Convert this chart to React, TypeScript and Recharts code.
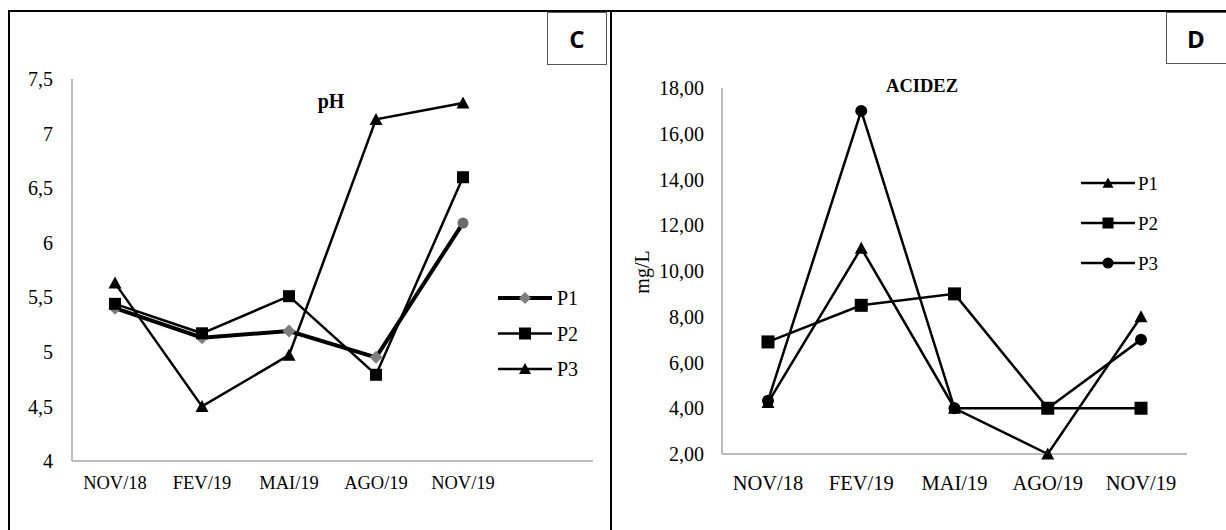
import React from 'react';
import { LineChart, Line, XAxis, YAxis } from 'recharts';

const months = ['NOV/18', 'FEV/19', 'MAI/19', 'AGO/19', 'NOV/19'];
const seriesNames = ['P1', 'P2', 'P3'];

// pH (panel C)
const phP1 = [5.4, 5.13, 5.19, 4.95, 6.18];
const phP2 = [5.44, 5.17, 5.51, 4.79, 6.6];
const phP3 = [5.63, 4.5, 4.97, 7.13, 7.28];
const phTicks = [4, 4.5, 5, 5.5, 6, 6.5, 7, 7.5];

// acidez (panel D), mg/L
const acP1 = [4.25, 11, 4, 2, 8];
const acP2 = [6.9, 8.5, 9, 4, 4];
const acP3 = [4.33, 17, 4, 4, 7];
const acTicks = [2, 4, 6, 8, 10, 12, 14, 16, 18];

const serif = '"Liberation Serif", "Times New Roman", serif';

const phData = months.map((m, i) => ({ month: m, P1: phP1[i], P2: phP2[i], P3: phP3[i] }));
const acData = months.map((m, i) => ({ month: m, P1: acP1[i], P2: acP2[i], P3: acP3[i] }));

type Shape = 'diamond' | 'square' | 'triangle' | 'circle';

const Marker = ({ shape, cx, cy, size = 12, fill = '#000' }: { shape: Shape; cx?: number; cy?: number; size?: number; fill?: string }) => {
  if (cx == null || cy == null) return <g />;
  const h = size / 2;
  if (shape === 'square') return <rect x={cx - h} y={cy - h} width={size} height={size} fill={fill} />;
  if (shape === 'diamond')
    return <polygon points={`${cx},${cy - h} ${cx + h},${cy} ${cx},${cy + h} ${cx - h},${cy}`} fill={fill} />;
  if (shape === 'triangle')
    return <polygon points={`${cx},${cy - h} ${cx + h},${cy + h * 0.85} ${cx - h},${cy + h * 0.85}`} fill={fill} />;
  return <circle cx={cx} cy={cy} r={h} fill={fill} />;
};

const dotFor = (shape: Shape, size = 12, fill = '#000') => (p: any) => (
  <Marker key={`d-${p.index}`} shape={shape} cx={p.cx} cy={p.cy} size={size} fill={fill} />
);

// P1 in pH: grey diamonds, last point drawn as a grey circle
const phP1Dot = (p: any) =>
  p.index === months.length - 1 ? (
    <Marker key={`d-${p.index}`} shape="circle" cx={p.cx} cy={p.cy} size={11} fill="#6b6b6b" />
  ) : (
    <Marker key={`d-${p.index}`} shape="diamond" cx={p.cx} cy={p.cy} size={13} fill="#7f7f7f" />
  );

const axisLine = { stroke: '#a6a6a6', strokeWidth: 1.5 };

const LegendBox = ({ left, top, rows, gap, fontSize, textX }: any) => (
  <svg style={{ position: 'absolute', left, top }} width={120} height={gap * 3 + 20}>
    {rows.map((r: any, i: number) => {
      const y = 18 + i * gap;
      return (
        <g key={r.name}>
          <line x1={8} x2={62} y1={y} y2={y} stroke="#000" strokeWidth={r.width} />
          <Marker shape={r.shape} cx={35} cy={y} size={r.size} fill={r.fill} />
          <text x={textX} y={y} dominantBaseline="central" style={{ fontFamily: serif, fontSize }} fill="#000">
            {r.name}
          </text>
        </g>
      );
    })}
  </svg>
);

const App = () => (
  <div style={{ position: 'absolute', left: 0, top: 0, width: 1226, height: 530, background: '#fff', overflow: 'hidden' }}>
    {/* table borders */}
    <div style={{ position: 'absolute', left: 8, top: 10, width: 1218, height: 2, background: '#000' }} />
    <div style={{ position: 'absolute', left: 8, top: 10, width: 2, height: 520, background: '#000' }} />
    <div style={{ position: 'absolute', left: 610, top: 10, width: 2, height: 520, background: '#000' }} />

    {/* panel C: pH */}
    <div style={{ position: 'absolute', left: 0, top: 0 }}>
      <LineChart width={611} height={530} data={phData} margin={{ top: 79, right: 18, bottom: 39, left: 0 }}>
        <XAxis
          dataKey="month"
          height={30}
          interval={0}
          padding={{ left: 43, right: 130 }}
          axisLine={axisLine}
          tickLine={false}
          tickSize={0}
          tickMargin={15}
          tick={{ fill: '#000', fontSize: 18.5, fontFamily: serif }}
        />
        <YAxis
          width={72}
          type="number"
          domain={[4, 7.5]}
          ticks={phTicks}
          interval={0}
          axisLine={axisLine}
          tickLine={false}
          tickSize={0}
          tickMargin={19}
          tick={{ fill: '#000', fontSize: 20, fontFamily: serif }}
          tickFormatter={(v: number) => String(v).replace('.', ',')}
        />
        <Line type="linear" dataKey="P1" stroke="#000" strokeWidth={4} dot={phP1Dot} isAnimationActive={false} />
        <Line type="linear" dataKey="P2" stroke="#000" strokeWidth={2.5} dot={dotFor('square', 12)} isAnimationActive={false} />
        <Line type="linear" dataKey="P3" stroke="#000" strokeWidth={2.5} dot={dotFor('triangle', 13)} isAnimationActive={false} />
      </LineChart>
    </div>
    <div style={{ position: 'absolute', left: 298, top: 88, width: 66, textAlign: 'center', fontFamily: serif, fontWeight: 'bold', fontSize: 20, lineHeight: '26px' }}>
      pH
    </div>
    <LegendBox
      left={490}
      top={280}
      gap={35.5}
      fontSize={20}
      textX={67}
      rows={[
        { name: seriesNames[0], shape: 'diamond', size: 12, fill: '#7f7f7f', width: 4 },
        { name: seriesNames[1], shape: 'square', size: 12, fill: '#000', width: 2.5 },
        { name: seriesNames[2], shape: 'triangle', size: 12, fill: '#000', width: 2.5 },
      ]}
    />
    <div style={{ position: 'absolute', left: 547, top: 12, width: 60, height: 53, boxSizing: 'border-box', border: '1.5px solid #555', display: 'flex', alignItems: 'center', justifyContent: 'center', fontFamily: '"Open Sans", sans-serif', fontWeight: 'bold', fontSize: 24 }}>
      C
    </div>

    {/* panel D: acidez */}
    <div style={{ position: 'absolute', left: 611, top: 0 }}>
      <LineChart width={615} height={530} data={acData} margin={{ top: 88, right: 39, bottom: 46, left: 0 }}>
        <XAxis
          dataKey="month"
          height={30}
          interval={0}
          padding={{ left: 46, right: 46 }}
          axisLine={axisLine}
          tickLine={false}
          tickSize={0}
          tickMargin={21}
          tick={{ fill: '#000', fontSize: 20.5, fontFamily: serif }}
        />
        <YAxis
          width={111}
          type="number"
          domain={[2, 18]}
          ticks={acTicks}
          interval={0}
          axisLine={axisLine}
          tickLine={false}
          tickSize={0}
          tickMargin={18}
          tick={{ fill: '#000', fontSize: 20, fontFamily: serif }}
          tickFormatter={(v: number) => v.toFixed(2).replace('.', ',')}
        />
        <Line type="linear" dataKey="P1" stroke="#000" strokeWidth={2.5} dot={dotFor('triangle', 13)} isAnimationActive={false} />
        <Line type="linear" dataKey="P2" stroke="#000" strokeWidth={2.5} dot={dotFor('square', 13)} isAnimationActive={false} />
        <Line type="linear" dataKey="P3" stroke="#000" strokeWidth={2.5} dot={dotFor('circle', 12)} isAnimationActive={false} />
      </LineChart>
    </div>
    <div style={{ position: 'absolute', left: 872, top: 73, width: 100, textAlign: 'center', fontFamily: serif, fontWeight: 'bold', fontSize: 18.5, lineHeight: '26px' }}>
      ACIDEZ
    </div>
    <div style={{ position: 'absolute', left: 602, top: 259, width: 80, textAlign: 'center', transform: 'rotate(-90deg)', fontFamily: serif, fontSize: 20, lineHeight: '26px' }}>
      mg/L
    </div>
    <LegendBox
      left={1073}
      top={165}
      gap={40}
      fontSize={19}
      textX={65}
      rows={[
        { name: seriesNames[0], shape: 'triangle', size: 11, fill: '#000', width: 2.5 },
        { name: seriesNames[1], shape: 'square', size: 11, fill: '#000', width: 2.5 },
        { name: seriesNames[2], shape: 'circle', size: 11, fill: '#000', width: 2.5 },
      ]}
    />
    <div style={{ position: 'absolute', left: 1166, top: 12, width: 64, height: 52, boxSizing: 'border-box', border: '1.5px solid #555', display: 'flex', alignItems: 'center', justifyContent: 'center', fontFamily: '"Open Sans", sans-serif', fontWeight: 'bold', fontSize: 24, paddingRight: 4 }}>
      D
    </div>
  </div>
);

export default App;
